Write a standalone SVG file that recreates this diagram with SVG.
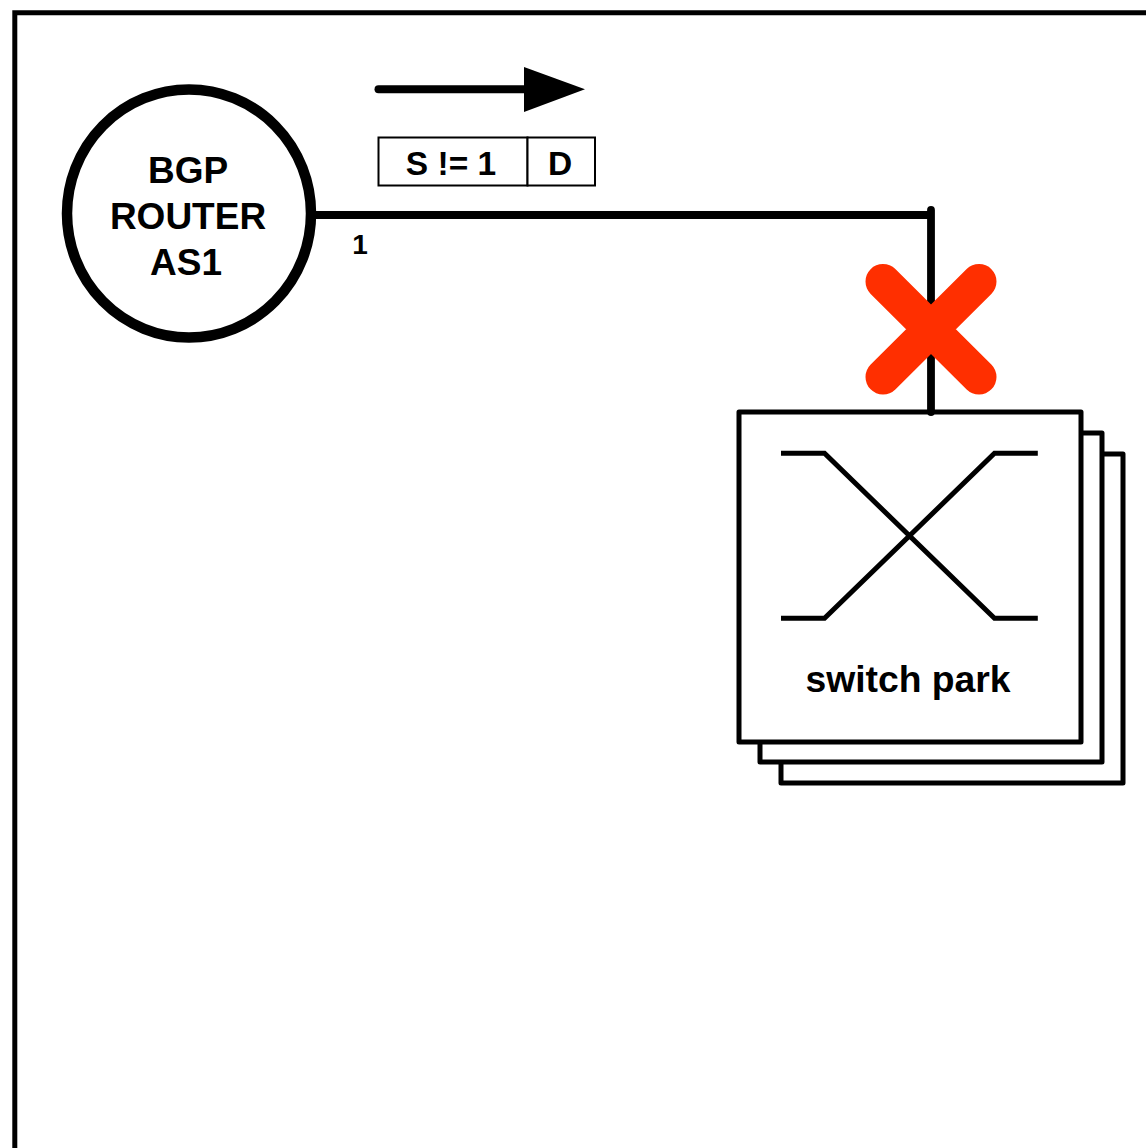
<svg xmlns="http://www.w3.org/2000/svg" width="1146" height="1148" viewBox="0 0 1146 1148">
<style>
text{font-family:"Liberation Sans",Arial,sans-serif;font-weight:700;fill:#000;text-anchor:middle}
.card{fill:#fff;stroke:#000;stroke-width:5;stroke-linejoin:round}
.line{fill:none;stroke:#000;stroke-linecap:round;stroke-linejoin:round}
</style>
<rect width="1146" height="1148" fill="#fff"/>
<path id="frame" d="M14.800 1150V12.800H1148" fill="none" stroke="#000" stroke-width="5"/>
<g id="router">
<ellipse cx="189" cy="213.500" rx="122" ry="124" fill="#fff" stroke="#000" stroke-width="10.500"/>
<text x="188" y="183" font-size="37">BGP</text>
<text x="188" y="229" font-size="37">ROUTER</text>
<text x="186" y="275" font-size="37">AS1</text>
</g>
<text id="port" x="360" y="254" font-size="28">1</text>
<g id="packet">
<rect x="378.500" y="137.500" width="149" height="48" fill="#fff" stroke="#000" stroke-width="2"/>
<rect x="527.500" y="137.500" width="67.500" height="48" fill="#fff" stroke="#000" stroke-width="2"/>
<text x="451" y="175" font-size="33.500">S != 1</text>
<text x="560" y="175" font-size="33.500">D</text>
</g>
<g id="switch-park">
<rect class="card" x="781" y="454" width="342" height="329"/>
<rect class="card" x="760" y="433" width="342" height="329"/>
<rect class="card" x="739" y="412" width="342" height="330"/>
<path d="M781 453.300H824.500L994.500 618.300H1037.800M781 618.300H824.500L994.500 453.300H1037.800" fill="none" stroke="#000" stroke-width="5"/>
<text x="908" y="692" font-size="37.300">switch park</text>
</g>
<g id="connectors">
<path class="line" d="M316 215H931" stroke-width="8" style="stroke-linecap:butt"/>
<path class="line" d="M931 210V412" stroke-width="7.800"/>
<path class="line" d="M378.500 89.300H527" stroke-width="8"/>
<path d="M524 67L585 89.300L524 112Z" fill="#000"/>
</g>
<path id="cross" d="M883 281.500L979 377M979 281.500L883 377" fill="none" stroke="#ff2f00" stroke-width="35" stroke-linecap="round"/>
</svg>
